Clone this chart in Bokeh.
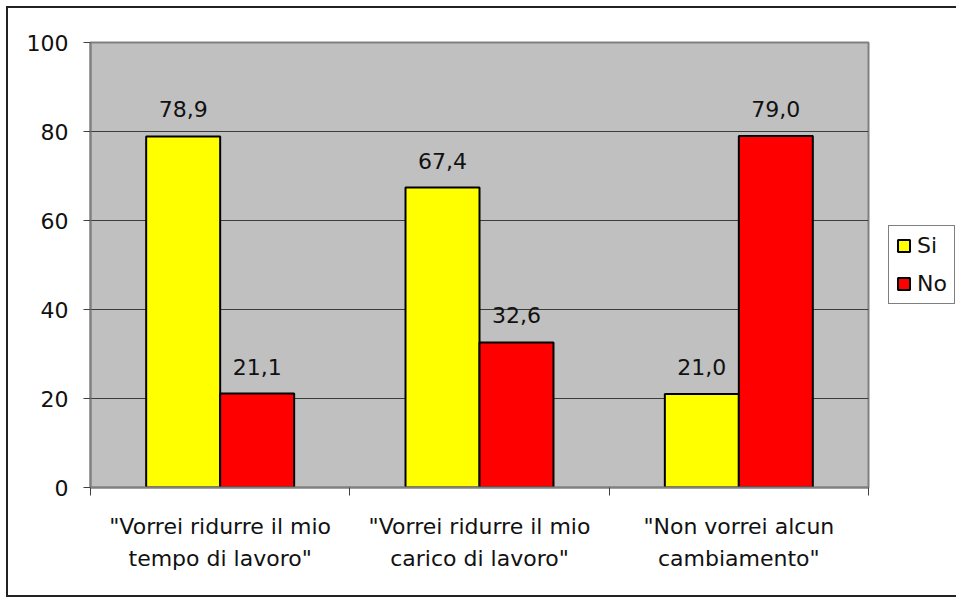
import numpy as np
from bokeh.plotting import figure
from bokeh.models import (ColumnDataSource, Range1d, FixedTicker, LabelSet,
                          Legend, LegendItem)
from bokeh.core.properties import value
from bokeh.transform import dodge
from bokeh.embed import file_html
from bokeh.resources import INLINE

categories = ['"Vorrei ridurre il mio\ntempo di lavoro"',
              '"Vorrei ridurre il mio\ncarico di lavoro"',
              '"Non vorrei alcun\ncambiamento"']
si_values = [78.9, 67.4, 21.0]
no_values = [21.1, 32.6, 79.0]
series_names = ["Si", "No"]
y_ticks = [0, 20, 40, 60, 80, 100]

FONT = "DejaVu Sans"
FS = "22px"
BAR_W = 0.2853


def fmt(v):
    return f"{v:.1f}".replace(".", ",")


centers = np.arange(len(categories)) + 0.5
src = ColumnDataSource(dict(
    x=centers,
    si=si_values,
    no=no_values,
    si_lbl=[fmt(v) for v in si_values],
    no_lbl=[fmt(v) for v in no_values],
))

p = figure(frame_width=778, frame_height=445,
           x_range=Range1d(0, len(categories)), y_range=Range1d(0, 100),
           output_backend="svg", toolbar_location=None,
           min_border_left=82, min_border_right=86,
           min_border_top=34, min_border_bottom=108)
p.styles = {"border": "2px solid #222", "margin-left": "6px", "margin-top": "6px"}

p.background_fill_color = "#C0C0C0"
p.border_fill_color = "white"
p.outline_line_color = "#808080"
p.outline_line_width = 2

p.xgrid.visible = False
p.ygrid.ticker = FixedTicker(ticks=y_ticks)
p.ygrid.grid_line_color = "#3c3c3c"
p.ygrid.grid_line_width = 1

r_si = p.vbar(x=dodge("x", -BAR_W / 2), top="si", width=BAR_W, bottom=0,
              source=src, fill_color="#FFFF00", line_color="black", line_width=2)
r_no = p.vbar(x=dodge("x", BAR_W / 2), top="no", width=BAR_W, bottom=0,
              source=src, fill_color="#FF0000", line_color="black", line_width=2)

for col, lbl, off in (("si", "si_lbl", -BAR_W / 2), ("no", "no_lbl", BAR_W / 2)):
    p.add_layout(LabelSet(x=dodge("x", off), y=col, text=lbl, source=src,
                          y_offset=19, text_align="center", text_baseline="bottom",
                          text_font=value(FONT), text_font_size=value(FS),
                          text_color="#111"))

# y axis
yax = p.yaxis[0]
yax.ticker = FixedTicker(ticks=y_ticks)
yax.axis_line_color = "#808080"
yax.axis_line_width = 2
yax.major_tick_in = 0
yax.major_tick_out = 7
yax.major_tick_line_color = "#404040"
yax.minor_tick_out = 0
yax.minor_tick_in = 0
yax.major_label_text_font = FONT
yax.major_label_text_font_size = FS
yax.major_label_text_color = "#111"
yax.major_label_standoff = 15

# x axis
xax = p.xaxis[0]
xax.ticker = FixedTicker(ticks=list(centers),
                         minor_ticks=list(range(len(categories) + 1)))
xax.axis_line_color = "#808080"
xax.axis_line_width = 2
xax.major_tick_in = 0
xax.major_tick_out = 0
xax.minor_tick_in = 0
xax.minor_tick_out = 8
xax.minor_tick_line_color = "#404040"
xax.major_label_overrides = {float(c): cat for c, cat in zip(centers, categories)}
xax.major_label_text_font = FONT
xax.major_label_text_font_size = FS
xax.major_label_text_color = "#111"
xax.major_label_text_line_height = 1.3
xax.major_label_standoff = 18

legend = Legend(items=[LegendItem(label=series_names[0], renderers=[r_si]),
                       LegendItem(label=series_names[1], renderers=[r_no])],
                location=(20, 183))
legend.glyph_width = 15
legend.glyph_height = 15
legend.label_standoff = 6
legend.padding = 7
legend.spacing = 13
legend.margin = 0
legend.label_text_font = FONT
legend.label_text_font_size = FS
legend.label_text_color = "#111"
legend.background_fill_color = "white"
legend.background_fill_alpha = 1
legend.border_line_color = "black"
legend.border_line_width = 1
p.add_layout(legend, "right")

open("out.html", "w").write(file_html(p, INLINE))
